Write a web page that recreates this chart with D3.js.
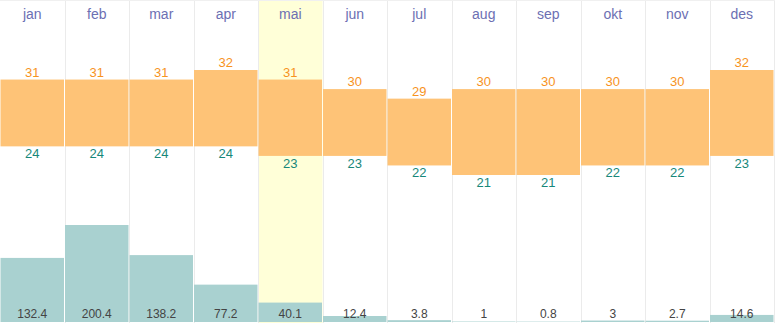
<!DOCTYPE html>
<html><head><meta charset="utf-8">
<script src="https://cdn.jsdelivr.net/npm/d3@7"></script>
<style>body{margin:0;background:#fff;}svg{display:block;font-family:Arial,"Liberation Sans",sans-serif;}</style>
</head><body>
<script>
const months = ["jan","feb","mar","apr","mai","jun","jul","aug","sep","okt","nov","des"];
const maxTemp = [31,31,31,32,31,30,29,30,30,30,30,32];
const minTemp = [24,24,24,24,23,23,22,21,21,22,22,23];
const precip = [132.4,200.4,138.2,77.2,40.1,12.4,3.8,1,0.8,3,2.7,14.6];
const highlight = "mai";

const W = 776, H = 323;
const svg = d3.select("body").append("svg").attr("width", W).attr("height", H);

const x = d3.scaleBand().domain(months).range([0, 774]).padding(0);
const yT = d3.scaleLinear().domain([21, 32]).range([175, 70]);
const yP = d3.scaleLinear().domain([0, 200.4]).range([322, 225]);

// highlight
svg.append("rect").attr("x", x(highlight)).attr("y", 0).attr("width", x.bandwidth()).attr("height", H).attr("fill", "#ffffd8");

// grid lines
svg.selectAll("line.grid").data(months).join("line")
  .attr("class","grid")
  .attr("x1", (d,i) => Math.round((i+1)*x.bandwidth()) + 0.5)
  .attr("x2", (d,i) => Math.round((i+1)*x.bandwidth()) + 0.5)
  .attr("y1", 0).attr("y2", H).attr("stroke", "#ebebeb").attr("stroke-width", 1);
svg.append("line").attr("x1",0).attr("x2",775).attr("y1",0.5).attr("y2",0.5).attr("stroke","#f0f0f0");

// temp bars
svg.selectAll("rect.temp").data(months).join("rect").attr("class","temp")
  .attr("x", d => x(d) + 0.5).attr("width", x.bandwidth() - 1)
  .attr("y", (d,i) => yT(maxTemp[i])).attr("height", (d,i) => yT(minTemp[i]) - yT(maxTemp[i]))
  .attr("fill", "#fec377");

// precip bars
svg.selectAll("rect.prec").data(months).join("rect").attr("class","prec")
  .attr("x", d => x(d) + 0.5).attr("width", x.bandwidth() - 1)
  .attr("y", (d,i) => yP(precip[i])).attr("height", (d,i) => yP(0) - yP(precip[i]))
  .attr("fill", "#a9d1d0");

// month labels
svg.selectAll("text.month").data(months).join("text").attr("class","month")
  .attr("x", d => x(d) + x.bandwidth()/2).attr("y", 19)
  .attr("text-anchor","middle").attr("font-size", 14).attr("fill", "#6c6fb3")
  .text(d => d);

svg.selectAll("text.max").data(months).join("text").attr("class","max")
  .attr("x", d => x(d) + x.bandwidth()/2).attr("y", (d,i) => yT(maxTemp[i]) - 3)
  .attr("text-anchor","middle").attr("font-size", 13).attr("fill", "#f7931e")
  .text((d,i) => maxTemp[i]);

svg.selectAll("text.min").data(months).join("text").attr("class","min")
  .attr("x", d => x(d) + x.bandwidth()/2).attr("y", (d,i) => yT(minTemp[i]) + 12)
  .attr("text-anchor","middle").attr("font-size", 13).attr("fill", "#17877a")
  .text((d,i) => minTemp[i]);

svg.selectAll("text.prec").data(months).join("text").attr("class","prec")
  .attr("x", d => x(d) + x.bandwidth()/2).attr("y", 318)
  .attr("text-anchor","middle").attr("font-size", 12).attr("fill", "#444")
  .text((d,i) => precip[i]);
</script>
</body></html>
